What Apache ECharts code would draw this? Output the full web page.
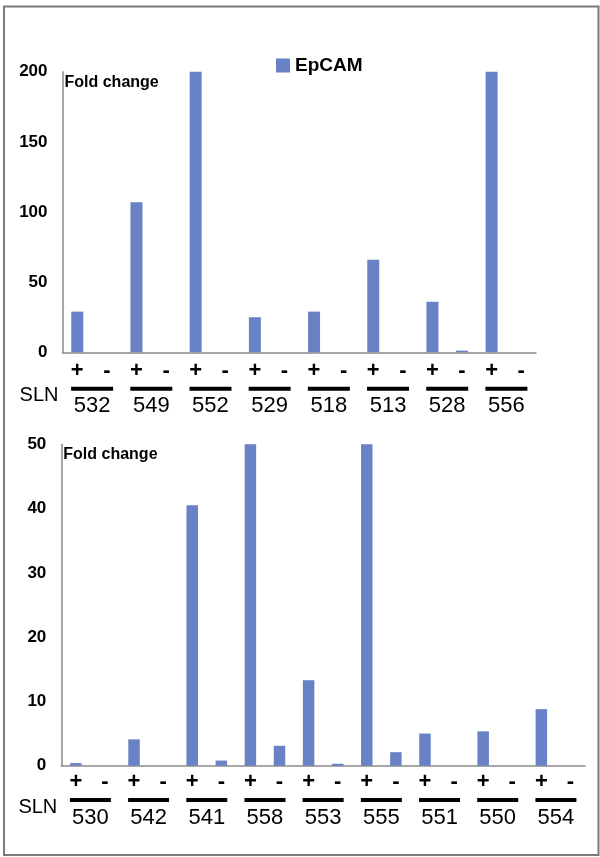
<!DOCTYPE html>
<html>
<head>
<meta charset="utf-8">
<script src="https://cdn.jsdelivr.net/npm/echarts@6/dist/echarts.min.js"></script>
<style>
html,body{margin:0;padding:0;background:#fff;}
#c{width:600px;height:857px;}
</style>
</head>
<body>
<div id="c"></div>
<script>
// ---- data ----
const seriesName = 'EpCAM';
const topSamples = ['532', '549', '552', '529', '518', '513', '528', '556'];
const topValues = [29, 0, 107, 0, 200, 0, 25, 0, 29, 0, 66, 0, 36, 1.2, 200, 0];
const topTicks = [0, 50, 100, 150, 200];

const bottomSamples = ['530', '542', '541', '558', '553', '555', '551', '550', '554'];
const bottomValues = [0.4, 0, 4.1, 0, 40.5, 0.8, 50, 3.1, 13.3, 0.3, 50, 2.1, 5.0, 0, 5.35, 0, 8.8, 0];
const bottomTicks = [0, 10, 20, 30, 40, 50];

const signs = ['+', '-'];
const yName = 'Fold change';
const groupLabel = 'SLN';

// ---- helpers ----
const topSigns = topSamples.flatMap(() => signs);
const bottomSigns = bottomSamples.flatMap(() => signs);

const BAR = '#6981c5';
const AXIS = '#8a8a8a';
const SANS = '"Liberation Sans", Arial, sans-serif';

function signAxis(gridIndex, data, margin) {
  return {
    type: 'category', gridIndex, data, position: 'bottom',
    axisLine: { show: true, lineStyle: { color: AXIS, width: 1.5 } },
    axisTick: { show: false },
    axisLabel: { interval: 0, margin, color: '#000', fontFamily: SANS, fontWeight: 'bold', fontSize: 22, lineHeight: 20 }
  };
}
function sampleAxis(gridIndex, data, offset, barW, numLH) {
  return {
    type: 'category', gridIndex, data, position: 'bottom', offset,
    name: groupLabel, nameLocation: 'start', nameGap: 4,
    nameTextStyle: { color: '#000', fontFamily: SANS, fontSize: 20, verticalAlign: 'top', lineHeight: 18 },
    axisLine: { show: false }, axisTick: { show: false },
    axisLabel: {
      interval: 0, margin: 0,
      formatter: v => '{l|}\n{n|' + v + '}',
      rich: {
        l: { width: barW, height: 4, lineHeight: 4, backgroundColor: '#000' },
        n: { fontFamily: SANS, fontSize: 22, lineHeight: numLH, color: '#000' }
      }
    }
  };
}
function valueAxis(gridIndex, ticks, gap) {
  return {
    type: 'value', gridIndex, min: ticks[0], max: ticks[ticks.length - 1], interval: ticks[1] - ticks[0],
    name: yName, nameLocation: 'end', nameGap: gap,
    nameTextStyle: { color: '#000', fontFamily: SANS, fontWeight: 'bold', fontSize: 16, align: 'left', padding: [0, 0, 0, 2] },
    axisLine: { show: true, lineStyle: { color: AXIS, width: 1.5 } },
    axisTick: { show: false },
    splitLine: { show: false },
    axisLabel: { color: '#000', fontFamily: SANS, fontWeight: 'bold', fontSize: 17, margin: 15 }
  };
}

const chart = echarts.init(document.getElementById('c'), null, { renderer: 'canvas' });
chart.setOption({
  animation: false,
  backgroundColor: '#fff',
  graphic: [{
    type: 'rect', left: 1.5, top: 4, shape: { width: 594.5, height: 848.5 },
    style: { fill: 'none', stroke: '#7a7a7a', lineWidth: 2 }, silent: true
  }],
  legend: {
    data: [seriesName], left: 271, top: 51, itemWidth: 14, itemHeight: 14, icon: 'rect',
    textStyle: { color: '#000', fontFamily: SANS, fontWeight: 'bold', fontSize: 19 }
  },
  grid: [
    { left: 62.5, right: 64, top: 71.7, bottom: 857 - 352.3 },
    { left: 61.3, right: 15, top: 444.3, bottom: 857 - 765.7 }
  ],
  xAxis: [
    signAxis(0, topSigns, 9),
    sampleAxis(0, topSamples, 34.4, 42, 30),
    signAxis(1, bottomSigns, 6.3),
    sampleAxis(1, bottomSamples, 32.3, 41, 32)
  ],
  yAxis: [
    valueAxis(0, topTicks, -19),
    valueAxis(1, bottomTicks, -18)
  ],
  series: [
    { name: seriesName, type: 'bar', xAxisIndex: 0, yAxisIndex: 0, data: topValues, barWidth: 12, itemStyle: { color: BAR } },
    { name: seriesName, type: 'bar', xAxisIndex: 2, yAxisIndex: 1, data: bottomValues, barWidth: 11.5, itemStyle: { color: BAR } }
  ]
});
</script>
</body>
</html>
